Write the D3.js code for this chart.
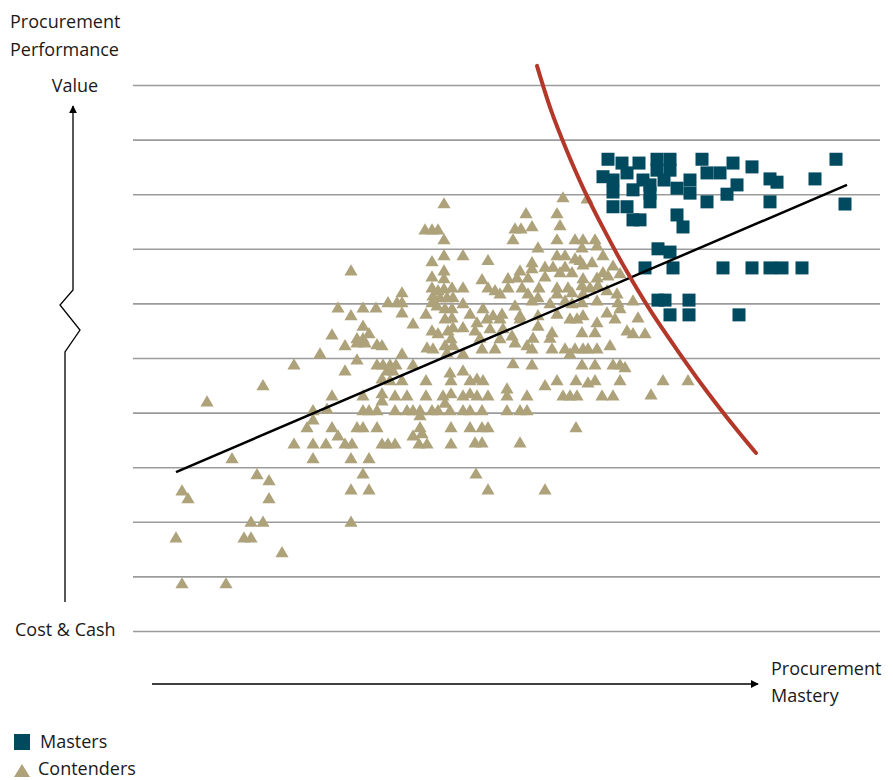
<!DOCTYPE html>
<html>
<head>
<meta charset="utf-8">
<script src="https://cdn.jsdelivr.net/npm/d3@7"></script>
<style>
  body { margin: 0; background: #fff; }
  svg text { font-family: "Open Sans", "Noto Sans", sans-serif; fill: #1a1a1a; }
</style>
</head>
<body>
<svg width="893" height="780"></svg>
<script>
// mastery score (x) vs performance score (y)
const masters = [
  [95,86.4],[97.8,85.7],[101.2,85.7],[104.8,86.4],[107.4,86.4],[104.8,84.4],[107.4,84.4],[106.2,82.6],
  [113.8,86.4],[120,85.7],[123.8,85],[140.6,86.4],[94,83.2],[96,82.6],[98.8,83.9],[102,82.6],[103.4,81.7],
  [111.4,82.6],[114.8,83.9],[117.4,83.9],[120.8,81.7],[127.4,82.8],[128.8,82.2],[136.4,82.8],[96,80.4],
  [100,80.8],[103.4,80.2],[108.8,81.1],[111.4,80.2],[118.8,80],[114.8,78.6],[127.4,78.6],[142.4,78.2],
  [96,77.7],[98.8,77.7],[103.4,78.6],[100,75.3],[101.4,75.3],[108.8,76.2],[110,74],[105,70],[107.4,69.4],
  [102.4,66.5],[108,66.5],[118,66.5],[123.8,66.5],[127.4,66.5],[129.8,66.5],[133.8,66.5],
  [105,60.6],[106.4,60.6],[111.2,60.6],[107.4,57.9],[111.2,57.9],[121.2,57.9]
]

const contenders = [
  // low end
  [26,45.1],[14.8,42.1],[19.8,31.7],[24.8,28.8],[27.2,27.7],[9.8,25.8],[11,24.4],[27.2,24.4],[23.6,20.1],
  [26,20.1],[43.6,20.1],[8.6,17.2],[22.2,17.2],[23.6,17.2],[29.8,14.5],[9.8,8.8],[18.6,8.8],
  // middle, upper half
  [62.2,78.4],[58.4,73.6],[59.8,73.6],[61,73.6],[62.2,71.8],[62.2,68.9],[59.8,67.8],[43.6,66.1],[62.2,66.1],
  [59.8,65],[62.2,64.7],[59.8,63],[61,62.5],[62.2,62.8],[63.8,63],[53.8,62.1],[60,61.5],[61.4,61.2],
  [62.8,61.2],[64,61.2],[51,60.3],[52.8,60.3],[53.8,60.3],[41,59.3],[46,59.3],[48.6,59.3],[59.8,60.3],
  [60.8,59.7],[43.6,57.9],[53.8,58.4],[58.6,58.2],[62.4,59.2],[63.8,59.2],[46,56],[56,56.4],[62.4,57.3],
  [63.8,57.5],[39.8,54.4],[44.8,53.7],[47.2,54.6],[46,53.7],[59.8,55.1],[61,54.6],[63,55.1],[64,55.7],[63.6,53.7],
  // middle, lower half
  [42.4,52.4],[44.8,52.9],[46.4,52.9],[48.8,52.6],[49.8,52.4],[58.8,52],[60,51.8],[62.4,52.4],[64,52.4],
  [37.4,50.9],[53.8,50.9],[62.8,51.1],[32.2,48.9],[44.8,49.8],[48.8,48.9],[50,48.9],[51.4,48.9],[52.6,48.9],
  [56,48.9],[42.4,47.8],[50.8,47.8],[52,47.8],[63.4,47.4],[49.8,46.3],[51.4,46],[53.8,46],[58.6,46],[63.6,46],
  [39.8,43.2],[46,43.2],[49.8,43.6],[52.4,43.2],[54.8,43.2],[58.6,43.2],[62,43.2],[63.6,43.6],[49.8,42.3],
  [62.4,41.9],[36,40.5],[38.8,40.8],[46,40.5],[47.2,40.5],[48.8,40.5],[52.4,40.5],[54.8,40.5],[56,40.5],
  [57.4,40.5],[59.8,40.5],[61,40.5],[63.4,40.5],[57.4,39.6],[36,38.8],[34.8,37.4],[39.8,37.4],[44.8,37.4],
  [46,37.4],[48.8,37.4],[57.4,37.4],[63.6,37.4],[41,35.9],[56,35.9],[57.8,36.3],[32.2,34.4],[36,34.4],
  [38.6,34.4],[42.4,34.4],[43.8,34.4],[49.8,34.4],[51,34.4],[52.4,34.4],[57.2,34.4],[58.8,34.4],[63.6,34.4],
  [36,31.7],[43.6,31.7],[47.2,31.7],[46,28.9],[43.6,26],[47.2,26],
  // right, upper half
  [86,79.5],[78.6,76.6],[84.8,76.6],[76.4,73.8],[77.6,73.8],[79.8,74.2],[85.4,74.4],[76,71.8],[84.8,71.8],
  [88.4,71.8],[90,71.8],[92.4,71.8],[81,70.3],[89.8,70.3],[92.8,70.7],[66,68.9],[71,68],[84.8,68.9],
  [86.4,68.9],[88.4,68.3],[89.4,68],[94,68.9],[79.8,67.6],[82.4,66.8],[84,66.8],[86.4,66.8],[90,67.2],
  [91.8,67.6],[96,67],[77.4,66.1],[79.8,66.5],[85.4,65.8],[87.8,65.8],[94,65.8],[69.8,64.5],[75,64.7],
  [76.8,64.8],[79,64.8],[82.4,65],[90,64.7],[92.8,64.8],[95,65.2],[97.4,65.6],[66,63],[71,63],[72.4,62.5],
  [75,63],[77.8,63],[81.2,63],[84.8,63],[87,63],[89.8,63.4],[91.4,63],[93,63.4],[73.4,61.9],[79,61.9],
  [81,61.2],[84.8,61.9],[87.8,62.1],[90,61.9],[94.8,62.5],[96.8,61.9],[66,60.1],[76.4,59.7],[79.8,60.6],
  [83.4,60.1],[86.4,60.6],[87.8,60.1],[89.8,60.3],[92.8,60.6],[97,60.3],[67.4,58.2],[70,59.2],[72,57.9],
  [73.8,58.2],[77.4,57.9],[81,57.9],[84.8,58.2],[90,57.9],[94.8,58.4],[97.4,59.2],[68.8,56.6],[70.8,57.3],
  [73.4,57.3],[77.4,57.3],[87.4,57.3],[88.8,57.3],[92.8,56.6],[96.4,57.3],[66,55.7],[68.4,55.1],[71.4,55.5],
  [74,55.5],[81,56],[83.8,54.8],[89.8,54.8],[92.4,54.8],[98.8,55.1],[69.4,53.8],[73.4,53.7],[75.8,54.2],
  [80,53.8],[83.4,53.8],
  // right, lower half
  [66,50.9],[69.8,51.8],[72.4,51.8],[76.4,52.9],[78.8,52.4],[79.8,51.8],[83.8,51.8],[86.4,51.8],[87.4,50.9],
  [88.4,51.8],[90,51.8],[91,51.8],[92.8,51.8],[95.4,52.4],[76,49.1],[79.8,48.9],[89.8,48.9],[92.4,48.9],
  [96,48.9],[97.4,48.9],[98.4,48.4],[66,47.8],[67.4,46],[68.8,46.3],[70,46],[82.4,45.1],[84.8,46],[88.6,46],
  [91,45.6],[92.4,46],[97.4,46],[66,43.2],[67.4,43.6],[68.8,43.2],[71,43.2],[74.8,44.5],[74.8,43.2],
  [78.8,43.2],[86,43.2],[87.4,43.2],[88.8,43.2],[93.8,43.2],[96,43.2],[66,40.5],[67.4,40.5],[69.8,40.5],
  [74.8,40.5],[77.4,40.5],[78.8,40.5],[67.4,37.4],[69.8,37.4],[71,37.4],[88.6,37.4],[68.4,34.6],[69.8,34.6],
  [77.4,34.6],[68.6,28.9],[71,26],[82.4,26],
  // beyond the red curve
  [100,60.6],[101,57.5],[102.4,54.6],[100,54.6],[106,46],[111,46],[103.6,43.4],[90.8,79.3]
]

// fitted trend, and the frontier curve
const trendLine = [[8.6, 29.1], [142.8, 81.7]]
const frontier = [
  [80.8,103.5],[83.6,95.4],[86.7,88.1],[90.2,80.8],[94.2,73.5],[98.6,66.1],
  [103.4,58.8],[108.8,51.5],[114.6,44.1],[120.8,36.8],[124.6,32.6]
]

const legendLabels = ['Masters', 'Contenders']

const colMaster = '#004a60'
const colContender = '#aea27b'
const colFrontier = '#b3382a'

const svg = d3.select('svg')

const x = d3.scaleLinear().domain([0, 150]).range([133, 883])
const y = d3.scaleLinear().domain([0, 100]).range([631, 85])

// grid lines
const grid = svg.append('g')
  .attr('transform', 'translate(133,0)')
  .call(d3.axisRight(y).ticks(10).tickSize(747).tickFormat(''))
grid.select('.domain').remove()
grid.selectAll('line').attr('stroke', '#9b9b9b').attr('stroke-width', 1.6)

// contenders (triangles)
const tri = 'M0,-5.8L6.6,5.4L-6.6,5.4Z'
svg.append('g')
  .selectAll('path')
  .data(contenders)
  .enter()
  .append('path')
  .attr('d', tri)
  .attr('transform', d => `translate(${x(d[0])},${y(d[1])})`)
  .attr('fill', colContender)

// masters (squares)
const sq = 13
svg.append('g')
  .selectAll('rect')
  .data(masters)
  .enter()
  .append('rect')
  .attr('x', d => x(d[0]) - sq / 2)
  .attr('y', d => y(d[1]) - sq / 2)
  .attr('width', sq)
  .attr('height', sq)
  .attr('fill', colMaster)

const line = d3.line().x(d => x(d[0])).y(d => y(d[1]))

svg.append('path')
  .attr('d', line(trendLine))
  .attr('stroke', '#000')
  .attr('stroke-width', 2.5)
  .attr('fill', 'none')

svg.append('path')
  .attr('d', line.curve(d3.curveCatmullRom)(frontier))
  .attr('stroke', colFrontier)
  .attr('stroke-width', 4)
  .attr('stroke-linecap', 'round')
  .attr('fill', 'none')

// arrow heads
const defs = svg.append('defs')
defs.append('marker')
  .attr('id', 'head')
  .attr('viewBox', '0 0 10 10')
  .attr('refX', 9).attr('refY', 5)
  .attr('markerWidth', 8).attr('markerHeight', 8)
  .attr('markerUnits', 'userSpaceOnUse')
  .attr('orient', 'auto')
  .append('path')
  .attr('d', 'M0,0L10,5L0,10Z')
  .attr('fill', '#000')

// vertical axis with break
svg.append('path')
  .attr('d', 'M65,602L65,352L80,330L60,305L73,290L73,106')
  .attr('stroke', '#000')
  .attr('stroke-width', 1.3)
  .attr('fill', 'none')
  .attr('marker-end', 'url(#head)')

svg.append('line')
  .attr('x1', 152).attr('y1', 684)
  .attr('x2', 758).attr('y2', 684)
  .attr('stroke', '#000')
  .attr('stroke-width', 1.3)
  .attr('marker-end', 'url(#head)')

// labels
const label = (t, px, py, anchor) => svg.append('text')
  .attr('x', px).attr('y', py)
  .attr('text-anchor', anchor || 'start')
  .attr('font-size', 18)
  .text(t)

label('Procurement', 10, 28)
label('Performance', 10, 56)
label('Value', 75, 92, 'middle')
label('Cost & Cash', 15, 636)
label('Procurement', 771, 675)
label('Mastery', 771, 702)

// legend
const legend = svg.append('g')
legend.append('rect')
  .attr('x', 14).attr('y', 734).attr('width', 16).attr('height', 16)
  .attr('fill', colMaster)
legend.append('path')
  .attr('d', 'M22,764L30,777L14,777Z')
  .attr('fill', colContender)
legend.selectAll('text')
  .data(legendLabels)
  .enter()
  .append('text')
  .attr('x', (d, i) => i === 0 ? 40 : 38)
  .attr('y', (d, i) => 748 + i * 27)
  .attr('font-size', 18)
  .text(d => d)
</script>
</body>
</html>
